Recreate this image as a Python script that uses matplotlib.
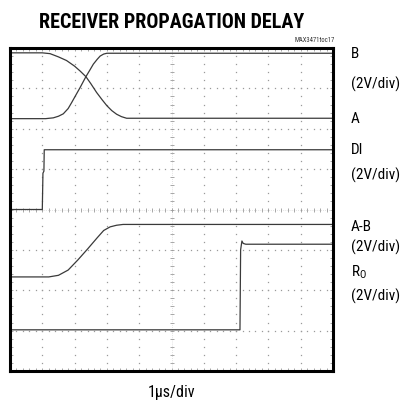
import numpy as np
import matplotlib
matplotlib.use("Agg")
import matplotlib.pyplot as plt

# ---- data (in scope divisions: x 0..10, y 0..8) ----
b_t = [0.0, 1.0, 1.24, 1.5, 1.75, 2.0, 2.17, 2.35, 2.5, 2.68, 2.85, 3.0, 3.15, 3.3, 3.45, 3.61, 10.0]
b_v = [7.88, 7.88, 7.86, 7.78, 7.69, 7.55, 7.43, 7.29, 7.12, 6.90, 6.72, 6.57, 6.45, 6.36, 6.30, 6.26, 6.26]

a_t = [0.0, 1.1, 1.34, 1.5, 1.65, 1.8, 1.91, 2.05, 2.17, 2.35, 2.47, 2.58, 2.7, 2.79, 2.9, 3.0, 10.0]
a_v = [6.25, 6.25, 6.27, 6.31, 6.37, 6.5, 6.65, 6.85, 7.02, 7.29, 7.45, 7.6, 7.72, 7.8, 7.85, 7.87, 7.87]

di_t = [0.0, 1.0, 1.02, 1.05, 1.06, 10.0]
di_v = [4.0, 4.0, 4.9, 4.95, 5.48, 5.48]

ab_t = [0.0, 1.2, 1.5, 1.8, 2.1, 2.4, 2.7, 2.9, 3.1, 3.3, 3.5, 10.0]
ab_v = [2.33, 2.33, 2.37, 2.5, 2.75, 3.02, 3.3, 3.48, 3.57, 3.61, 3.63, 3.63]

ro_t = [0.0, 7.12, 7.14, 7.18, 7.22, 7.3, 10.0]
ro_v = [1.02, 1.02, 3.0, 3.22, 3.16, 3.14, 3.14]

traces = [(b_t, b_v), (a_t, a_v), (di_t, di_v), (ab_t, ab_v), (ro_t, ro_v)]

title = "RECEIVER PROPAGATION DELAY"
code_label = "MAX3471toc17"
right_labels = [("B", 54), ("(2V/div)", 84), ("A", 119), ("DI", 150), ("(2V/div)", 175),
                ("A-B", 227), ("(2V/div)", 247), ("R$_{\\mathregular{O}}$", 272), ("(2V/div)", 296)]
xlabel = "1\u00b5s/div"

W, H = 403, 402
fig = plt.figure(figsize=(W / 100, H / 100), dpi=100)
FONT = ["Roboto Condensed", "DejaVu Sans"]
plt.rcParams["mathtext.fontset"] = "custom"
plt.rcParams["mathtext.rm"] = "Roboto Condensed"

x0, x1, ytop, ybot = 10, 333, 49, 372
ax = fig.add_axes([x0 / W, 1 - ybot / H, (x1 - x0) / W, (ybot - ytop) / H])
ax.set_xlim(0, 10)
ax.set_ylim(0, 8)

# grid dots
gc = "#9a9a9a"
for gx in range(1, 10):
    if gx == 5:
        continue
    ys = np.arange(0, 8.01, 0.2)
    ax.plot([gx] * len(ys), ys, ls="none", marker="s", ms=0.9, color=gc, mew=0)
for gy in range(1, 8):
    if gy == 4:
        continue
    xs = np.arange(0, 10.01, 0.2)
    ax.plot(xs, [gy] * len(xs), ls="none", marker="s", ms=0.9, color=gc, mew=0)
# centre axes with minor ticks
ax.axvline(5, color="#c8c8c8", lw=0.5, ls=(0, (1, 2)))
ax.axhline(4, color="#c8c8c8", lw=0.5, ls=(0, (1, 2)))
ys = np.arange(0, 8.01, 0.2)
ax.plot([5] * len(ys), ys, ls="none", marker="_", ms=3.5, color=gc, mew=0.6)
xs = np.arange(0, 10.01, 0.2)
ax.plot(xs, [4] * len(xs), ls="none", marker="|", ms=3.5, color=gc, mew=0.6)

for t, v in traces:
    ax.plot(t, v, color="#3a3a3a", lw=0.9, solid_joinstyle="round")

ax.set_xticks(range(0, 11))
ax.set_yticks(range(0, 9))
ax.set_xticks(np.arange(0, 10.01, 0.2), minor=True)
ax.set_yticks(np.arange(0, 8.01, 0.2), minor=True)
ax.tick_params(which="both", direction="in", length=2.5, width=0.6, color=gc,
               top=True, right=True, labelbottom=False, labelleft=False)
for s in ax.spines.values():
    s.set_linewidth(2.2)
    s.set_color("black")

fig.text(172 / W, 1 - 23 / H, title, ha="center", va="center", fontsize=14.5,
         fontweight="bold", family=FONT)
fig.text(335 / W, 1 - 40 / H, code_label, ha="right", va="center", fontsize=4.8,
         family=FONT, color="#333333")
for txt, yy in right_labels:
    fig.text(351 / W, 1 - yy / H, txt, ha="left", va="center", fontsize=11,
             family=FONT)
fig.text(172 / W, 1 - 393 / H, xlabel, ha="center", va="center", fontsize=11.5,
         family=FONT)

fig.savefig("out.png", dpi=100)
